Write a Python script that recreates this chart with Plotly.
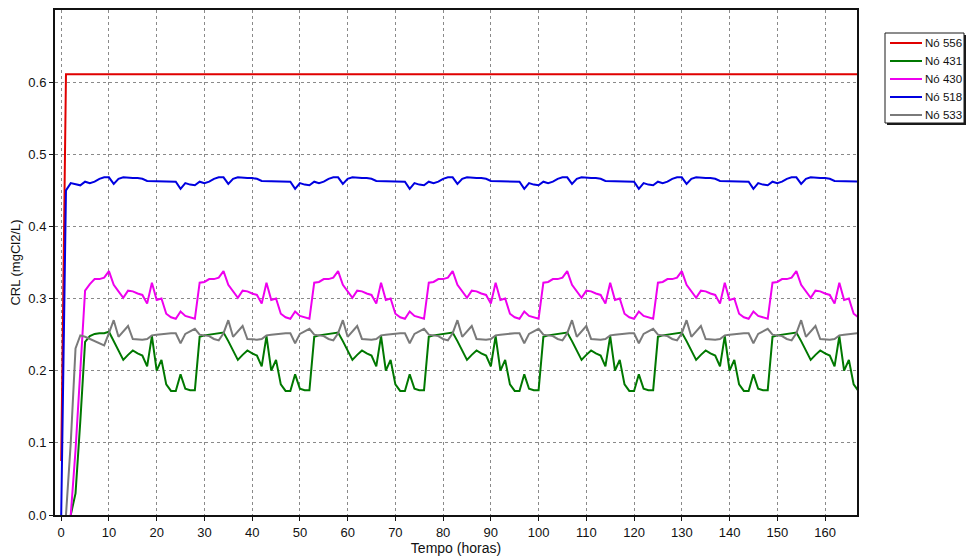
import plotly.graph_objects as go

# Time in hours (hourly report steps)
hours = list(range(0, 169))

# Nó 556 (red)
no556 = [0.075] + [0.611] * 168

# Nó 431 (green) - one row per day
no431 = (
    [None, None, 0.0, 0.03, 0.13, 0.240, 0.248, 0.251, 0.252, 0.252, 0.254, 0.241, 0.228, 0.215, 0.222, 0.228, 0.224, 0.221, 0.206, 0.248, 0.200, 0.215, 0.181, 0.172]
    + [0.172, 0.195, 0.175, 0.173, 0.173, 0.247, 0.249, 0.250, 0.251, 0.252, 0.253, 0.241, 0.228, 0.215, 0.222, 0.228, 0.224, 0.221, 0.206, 0.248, 0.200, 0.215, 0.181, 0.172]
    + [0.172, 0.195, 0.175, 0.173, 0.173, 0.247, 0.249, 0.250, 0.251, 0.252, 0.253, 0.241, 0.228, 0.215, 0.222, 0.228, 0.224, 0.221, 0.206, 0.248, 0.200, 0.215, 0.181, 0.172]
    + [0.172, 0.195, 0.175, 0.173, 0.173, 0.247, 0.249, 0.250, 0.251, 0.252, 0.253, 0.241, 0.228, 0.215, 0.222, 0.228, 0.224, 0.221, 0.206, 0.248, 0.200, 0.215, 0.181, 0.172]
    + [0.172, 0.195, 0.175, 0.173, 0.173, 0.247, 0.249, 0.250, 0.251, 0.252, 0.253, 0.241, 0.228, 0.215, 0.222, 0.228, 0.224, 0.221, 0.206, 0.248, 0.200, 0.215, 0.181, 0.172]
    + [0.172, 0.195, 0.175, 0.173, 0.173, 0.247, 0.249, 0.250, 0.251, 0.252, 0.253, 0.241, 0.228, 0.215, 0.222, 0.228, 0.224, 0.221, 0.206, 0.248, 0.200, 0.215, 0.181, 0.172]
    + [0.172, 0.195, 0.175, 0.173, 0.173, 0.247, 0.249, 0.250, 0.251, 0.252, 0.253, 0.241, 0.228, 0.215, 0.222, 0.228, 0.224, 0.221, 0.206, 0.248, 0.200, 0.215, 0.181, 0.172]
    + [0.172]
)

# Nó 430 (magenta)
no430 = (
    [None, None, 0.0, 0.09, 0.20, 0.311, 0.320, 0.327, 0.327, 0.329, 0.338, 0.319, 0.310, 0.301, 0.311, 0.310, 0.307, 0.305, 0.293, 0.322, 0.298, 0.300, 0.279, 0.274]
    + [0.272, 0.282, 0.276, 0.274, 0.272, 0.322, 0.323, 0.327, 0.327, 0.329, 0.338, 0.319, 0.310, 0.301, 0.311, 0.310, 0.307, 0.305, 0.293, 0.322, 0.298, 0.300, 0.279, 0.274]
    + [0.272, 0.282, 0.276, 0.274, 0.272, 0.322, 0.323, 0.327, 0.327, 0.329, 0.338, 0.319, 0.310, 0.301, 0.311, 0.310, 0.307, 0.305, 0.293, 0.322, 0.298, 0.300, 0.279, 0.274]
    + [0.272, 0.282, 0.276, 0.274, 0.272, 0.322, 0.323, 0.327, 0.327, 0.329, 0.338, 0.319, 0.310, 0.301, 0.311, 0.310, 0.307, 0.305, 0.293, 0.322, 0.298, 0.300, 0.279, 0.274]
    + [0.272, 0.282, 0.276, 0.274, 0.272, 0.322, 0.323, 0.327, 0.327, 0.329, 0.338, 0.319, 0.310, 0.301, 0.311, 0.310, 0.307, 0.305, 0.293, 0.322, 0.298, 0.300, 0.279, 0.274]
    + [0.272, 0.282, 0.276, 0.274, 0.272, 0.322, 0.323, 0.327, 0.327, 0.329, 0.338, 0.319, 0.310, 0.301, 0.311, 0.310, 0.307, 0.305, 0.293, 0.322, 0.298, 0.300, 0.279, 0.274]
    + [0.272, 0.282, 0.276, 0.274, 0.272, 0.322, 0.323, 0.327, 0.327, 0.329, 0.338, 0.319, 0.310, 0.301, 0.311, 0.310, 0.307, 0.305, 0.293, 0.322, 0.298, 0.300, 0.279, 0.274]
    + [0.272]
)

# Nó 518 (blue)
no518 = (
    [0.0, 0.450, 0.460, 0.458, 0.457, 0.462, 0.460, 0.462, 0.466, 0.468, 0.468, 0.459, 0.466, 0.468, 0.467, 0.467, 0.467, 0.466, 0.463, 0.463, 0.462, 0.462, 0.462, 0.462]
    + [0.462, 0.452, 0.460, 0.458, 0.457, 0.462, 0.460, 0.462, 0.466, 0.468, 0.468, 0.459, 0.466, 0.468, 0.467, 0.467, 0.467, 0.466, 0.463, 0.463, 0.462, 0.462, 0.462, 0.462]
    + [0.462, 0.452, 0.460, 0.458, 0.457, 0.462, 0.460, 0.462, 0.466, 0.468, 0.468, 0.459, 0.466, 0.468, 0.467, 0.467, 0.467, 0.466, 0.463, 0.463, 0.462, 0.462, 0.462, 0.462]
    + [0.462, 0.452, 0.460, 0.458, 0.457, 0.462, 0.460, 0.462, 0.466, 0.468, 0.468, 0.459, 0.466, 0.468, 0.467, 0.467, 0.467, 0.466, 0.463, 0.463, 0.462, 0.462, 0.462, 0.462]
    + [0.462, 0.452, 0.460, 0.458, 0.457, 0.462, 0.460, 0.462, 0.466, 0.468, 0.468, 0.459, 0.466, 0.468, 0.467, 0.467, 0.467, 0.466, 0.463, 0.463, 0.462, 0.462, 0.462, 0.462]
    + [0.462, 0.452, 0.460, 0.458, 0.457, 0.462, 0.460, 0.462, 0.466, 0.468, 0.468, 0.459, 0.466, 0.468, 0.467, 0.467, 0.467, 0.466, 0.463, 0.463, 0.462, 0.462, 0.462, 0.462]
    + [0.462, 0.452, 0.460, 0.458, 0.457, 0.462, 0.460, 0.462, 0.466, 0.468, 0.468, 0.459, 0.466, 0.468, 0.467, 0.467, 0.467, 0.466, 0.463, 0.463, 0.462, 0.462, 0.462, 0.462]
    + [0.462]
)

# Nó 533 (gray)
no533 = (
    [None, 0.0, 0.10, 0.231, 0.249, 0.247, 0.244, 0.241, 0.238, 0.235, 0.252, 0.270, 0.247, 0.254, 0.262, 0.244, 0.243, 0.243, 0.244, 0.249, 0.250, 0.251, 0.252, 0.252]
    + [0.252, 0.238, 0.251, 0.255, 0.258, 0.250, 0.249, 0.248, 0.244, 0.242, 0.252, 0.270, 0.247, 0.254, 0.262, 0.244, 0.243, 0.243, 0.244, 0.249, 0.250, 0.251, 0.252, 0.252]
    + [0.252, 0.238, 0.251, 0.255, 0.258, 0.250, 0.249, 0.248, 0.244, 0.242, 0.252, 0.270, 0.247, 0.254, 0.262, 0.244, 0.243, 0.243, 0.244, 0.249, 0.250, 0.251, 0.252, 0.252]
    + [0.252, 0.238, 0.251, 0.255, 0.258, 0.250, 0.249, 0.248, 0.244, 0.242, 0.252, 0.270, 0.247, 0.254, 0.262, 0.244, 0.243, 0.243, 0.244, 0.249, 0.250, 0.251, 0.252, 0.252]
    + [0.252, 0.238, 0.251, 0.255, 0.258, 0.250, 0.249, 0.248, 0.244, 0.242, 0.252, 0.270, 0.247, 0.254, 0.262, 0.244, 0.243, 0.243, 0.244, 0.249, 0.250, 0.251, 0.252, 0.252]
    + [0.252, 0.238, 0.251, 0.255, 0.258, 0.250, 0.249, 0.248, 0.244, 0.242, 0.252, 0.270, 0.247, 0.254, 0.262, 0.244, 0.243, 0.243, 0.244, 0.249, 0.250, 0.251, 0.252, 0.252]
    + [0.252, 0.238, 0.251, 0.255, 0.258, 0.250, 0.249, 0.248, 0.244, 0.242, 0.252, 0.270, 0.247, 0.254, 0.262, 0.244, 0.243, 0.243, 0.244, 0.249, 0.250, 0.251, 0.252, 0.252]
    + [0.252]
)

series_names = ["Nó 556", "Nó 431", "Nó 430", "Nó 518", "Nó 533"]
series_values = [no556, no431, no430, no518, no533]
series_colors = ["#e00000", "#007800", "#ee00ee", "#0000e0", "#7a7a7a"]

x_ticks = list(range(0, 170, 10))
y_ticks = [0.0, 0.1, 0.2, 0.3, 0.4, 0.5, 0.6]
y_tick_labels = ["0.0", "0.1", "0.2", "0.3", "0.4", "0.5", "0.6"]

FONT = "Liberation Sans, Arial, sans-serif"

# full-window figure (body margin removed in post_script)
W, H = 966, 557
ML, MR, MT, MB = 55, 109, 10, 42
PW, PH = W - ML - MR, H - MT - MB


def px(page_x):
    return (page_x - ML) / PW


def py(page_y):
    return (H - MB - page_y) / PH


fig = go.Figure()
for name, vals, col in zip(series_names, series_values, series_colors):
    fig.add_trace(go.Scatter(
        x=hours, y=vals, name=name, mode="lines",
        line=dict(color=col, width=2), connectgaps=False,
        showlegend=False,
    ))

# Legend box (shapes + annotations so it can sit at the right page edge)
LEG_L, LEG_T, LEG_R, LEG_B = 885, 33, 964, 123
fig.add_shape(type="rect", xref="paper", yref="paper", layer="above",
              x0=px(LEG_L + 2), x1=px(LEG_R + 2), y0=py(LEG_B + 2), y1=py(LEG_T + 2),
              fillcolor="#1a1a1a", line=dict(width=0))
fig.add_shape(type="rect", xref="paper", yref="paper", layer="above",
              x0=px(LEG_L), x1=px(LEG_R), y0=py(LEG_B), y1=py(LEG_T),
              fillcolor="white", line=dict(color="#1a1a1a", width=1))
row_y = [43, 61, 79, 97, 115]
for name, col, ry in zip(series_names, series_colors, row_y):
    fig.add_shape(type="line", xref="paper", yref="paper", layer="above",
                  x0=px(890), x1=px(922), y0=py(ry), y1=py(ry),
                  line=dict(color=col, width=2))
    fig.add_annotation(xref="paper", yref="paper", x=px(923), y=py(ry),
                       xanchor="left", yanchor="middle", showarrow=False,
                       text=name, font=dict(family=FONT, size=11.5, color="#111111"))

fig.update_layout(
    width=W, height=H,
    margin=dict(l=ML, r=MR, t=MT, b=MB, pad=0, autoexpand=False),
    paper_bgcolor="white", plot_bgcolor="white",
    font=dict(family=FONT, size=13, color="#111111"),
    showlegend=False,
)

fig.update_xaxes(
    range=[-1.3, 166.7], tickvals=x_ticks, ticktext=[str(v) for v in x_ticks],
    showgrid=True, gridcolor="#8a8a8a", griddash="dot", gridwidth=1,
    showline=True, linecolor="#111111", linewidth=2, mirror=True,
    ticks="outside", ticklen=4, tickcolor="#111111",
    zeroline=False, automargin=False,
    title=dict(text="Tempo (horas)", font=dict(size=14), standoff=1),
    tickfont=dict(size=13),
)
fig.update_yaxes(
    range=[0, 0.70], tickvals=y_ticks, ticktext=y_tick_labels,
    showgrid=True, gridcolor="#8a8a8a", griddash="dot", gridwidth=1,
    showline=True, linecolor="#111111", linewidth=2, mirror=True,
    ticks="outside", ticklen=4, tickcolor="#111111",
    zeroline=False, automargin=False,
    title=dict(text="CRL (mgCl2/L)", font=dict(size=13), standoff=5),
    tickfont=dict(size=13),
)

fig.write_html(
    "out.html",
    config={"displayModeBar": False},
    post_script="document.body.style.margin='0';document.body.style.overflow='hidden';",
)
